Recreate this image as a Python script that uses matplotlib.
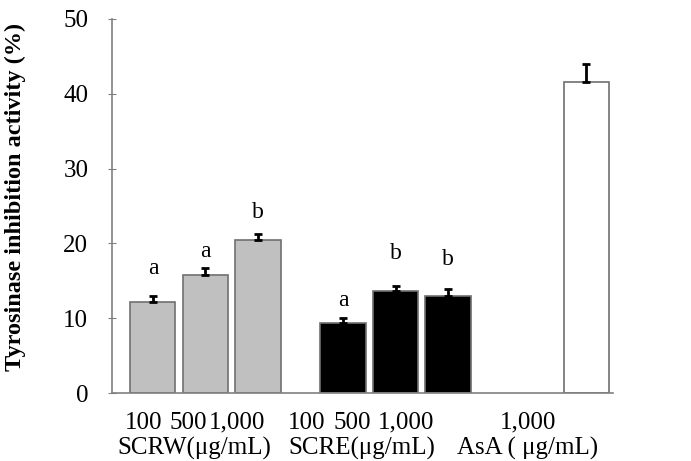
import matplotlib.pyplot as plt
import numpy as np

plt.rcParams['font.family'] = ['Liberation Serif', 'DejaVu Serif']

# values
doses = ["100", "500", "1,000", "100", "500", "1,000", "1,000"]
groups = ["SCRW(\u03bcg/mL)", "SCRE(\u03bcg/mL)", "AsA ( \u03bcg/mL)"]
means = [12.2, 15.8, 20.4, 9.4, 13.6, 13.0, 41.6]
errors = [0.8, 0.9, 0.8, 0.6, 0.7, 0.9, 2.4]
letters = ["a", "a", "b", "a", "b", "b", ""]
letter_y = [16.7, 18.9, 24.1, 12.4, 18.7, 17.8, 0]
colors = ["#c0c0c0"] * 3 + ["#000000"] * 3 + ["#ffffff"]

x = np.array([0, 1, 2, 3.62, 4.62, 5.62, 8.25])
# text under the axis sits a little left of the bars in the original
dose_x = [-0.17, 0.67, 1.6, 2.93, 3.79, 4.82, 7.14]
group_x = [0.78, 3.98, 7.14]

fig = plt.figure(figsize=(6.91, 4.61), dpi=100)
ax = fig.add_axes([0.162, 0.1475, 0.725, 0.8115])

ax.bar(x, means, width=0.86, color=colors, edgecolor="#707070", linewidth=1.2, zorder=2)
ax.errorbar(x, means, yerr=[np.zeros(len(errors)), errors], fmt="none",
            ecolor="black", elinewidth=2, capsize=3, capthick=2, zorder=3)

for xi, lab, ly in zip(x, letters, letter_y):
    if lab:
        ax.text(xi, ly, lab, ha="center", va="center", fontsize=17)

ax.set_xlim(-0.78, 8.76)
ax.set_ylim(0, 50)
ax.set_yticks([0, 10, 20, 30, 40, 50])
ax.tick_params(axis="y", labelsize=18, direction="inout", length=6, color="#808080", pad=14)
ax.set_xticks([])

for xi, d in zip(dose_x, doses):
    ax.text(xi, -0.08, d, transform=ax.get_xaxis_transform(), ha="center", va="center", fontsize=18)
for gx, g in zip(group_x, groups):
    ax.text(gx, -0.147, g, transform=ax.get_xaxis_transform(), ha="center", va="center", fontsize=18)

ax.set_ylabel("Tyrosinase inhibition activity (%)", fontsize=17.5, fontweight="bold")
ax.yaxis.set_label_coords(-0.172, 0.525)

for s in ["top", "right"]:
    ax.spines[s].set_visible(False)
for s in ["left", "bottom"]:
    ax.spines[s].set_color("#808080")
    ax.spines[s].set_linewidth(1.2)

plt.savefig("out.png", dpi=100)
plt.close()
